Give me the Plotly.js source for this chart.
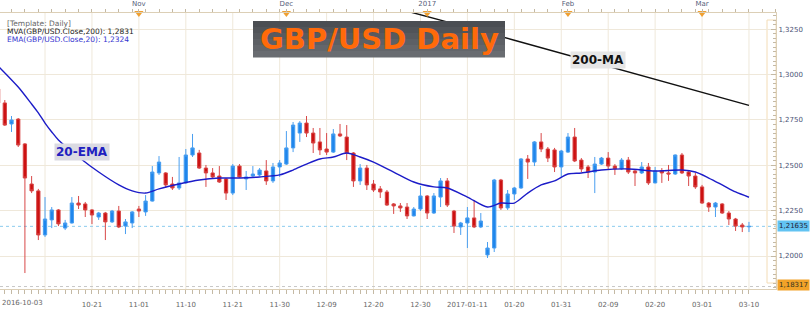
<!DOCTYPE html>
<html>
<head>
<meta charset="utf-8">
<script src="https://cdn.plot.ly/plotly-3.0.1.min.js"></script>
<style>html,body{margin:0;padding:0;background:#fff;}#chart{width:810px;height:310px;}</style>
</head>
<body>
<div id="chart"></div>
<script>
// ---- data ----
const dates = [
'2016-10-03','2016-10-04','2016-10-05','2016-10-06','2016-10-07','2016-10-10','2016-10-11','2016-10-12','2016-10-13','2016-10-14',
'2016-10-17','2016-10-18','2016-10-19','2016-10-20','2016-10-21','2016-10-24','2016-10-25','2016-10-26','2016-10-27','2016-10-28',
'2016-10-31','2016-11-01','2016-11-02','2016-11-03','2016-11-04','2016-11-07','2016-11-08','2016-11-09','2016-11-10','2016-11-11',
'2016-11-14','2016-11-15','2016-11-16','2016-11-17','2016-11-18','2016-11-21','2016-11-22','2016-11-23','2016-11-24','2016-11-25',
'2016-11-28','2016-11-29','2016-11-30','2016-12-01','2016-12-02','2016-12-05','2016-12-06','2016-12-07','2016-12-08','2016-12-09',
'2016-12-12','2016-12-13','2016-12-14','2016-12-15','2016-12-16','2016-12-19','2016-12-20','2016-12-21','2016-12-22','2016-12-23',
'2016-12-27','2016-12-28','2016-12-29','2016-12-30','2017-01-03','2017-01-04','2017-01-05','2017-01-06','2017-01-09','2017-01-10',
'2017-01-11','2017-01-12','2017-01-13','2017-01-16','2017-01-17','2017-01-18','2017-01-19','2017-01-20','2017-01-23','2017-01-24',
'2017-01-25','2017-01-26','2017-01-27','2017-01-30','2017-01-31','2017-02-01','2017-02-02','2017-02-03','2017-02-06','2017-02-07',
'2017-02-08','2017-02-09','2017-02-10','2017-02-13','2017-02-14','2017-02-15','2017-02-16','2017-02-17','2017-02-20','2017-02-21',
'2017-02-22','2017-02-23','2017-02-24','2017-02-27','2017-02-28','2017-03-01','2017-03-02','2017-03-03','2017-03-06','2017-03-07',
'2017-03-08','2017-03-09','2017-03-10'];

const openP = [
1.2921,1.2844,1.2728,1.2755,1.2618,1.2397,1.2359,1.2116,1.2199,1.2254,
1.2154,1.2182,1.2292,1.2287,1.2254,1.2215,1.2237,1.2188,1.2248,1.2165,
1.2182,1.2259,1.2243,1.2303,1.2458,1.2458,1.2397,1.2375,1.2403,1.2557,
1.2568,1.2485,1.2458,1.2441,1.2425,1.2347,1.2496,1.2425,1.2441,1.2447,
1.2469,1.2414,1.2491,1.2507,1.2596,1.2678,1.2733,1.2678,1.2629,1.2590,
1.2573,1.2673,1.2656,1.2568,1.2414,1.2485,1.2397,1.2370,1.2353,1.2287,
1.2276,1.2270,1.2221,1.2259,1.2331,1.2237,1.2325,1.2414,1.2248,1.2160,
1.2182,1.2210,1.2160,1.2006,1.2044,1.2419,1.2265,1.2342,1.2375,1.2535,
1.2518,1.2629,1.2590,1.2585,1.2491,1.2573,1.2656,1.2529,1.2491,1.2463,
1.2507,1.2540,1.2496,1.2480,1.2529,1.2469,1.2458,1.2491,1.2403,1.2469,
1.2458,1.2452,1.2557,1.2463,1.2441,1.2381,1.2292,1.2270,1.2287,1.2237,
1.2204,1.2171,1.2161];

const highP = [
1.2937,1.2860,1.2772,1.2761,1.2623,1.2441,1.2370,1.2325,1.2270,1.2259,
1.2199,1.2325,1.2331,1.2298,1.2259,1.2243,1.2243,1.2254,1.2276,1.2204,
1.2248,1.2276,1.2336,1.2496,1.2551,1.2463,1.2436,1.2546,1.2590,1.2673,
1.2585,1.2502,1.2485,1.2496,1.2430,1.2507,1.2507,1.2469,1.2496,1.2485,
1.2529,1.2513,1.2529,1.2689,1.2739,1.2744,1.2772,1.2706,1.2706,1.2678,
1.2700,1.2728,1.2722,1.2573,1.2507,1.2502,1.2419,1.2386,1.2364,1.2292,
1.2292,1.2292,1.2270,1.2386,1.2336,1.2347,1.2430,1.2430,1.2254,1.2188,
1.2270,1.2309,1.2237,1.2077,1.2425,1.2425,1.2364,1.2381,1.2540,1.2557,
1.2634,1.2678,1.2601,1.2596,1.2585,1.2678,1.2706,1.2540,1.2502,1.2546,
1.2546,1.2573,1.2507,1.2540,1.2546,1.2474,1.2518,1.2513,1.2491,1.2485,
1.2502,1.2560,1.2568,1.2474,1.2458,1.2392,1.2298,1.2298,1.2292,1.2248,
1.2210,1.2182,1.2188];

const lowP = [
1.2838,1.2717,1.2684,1.2601,1.1906,1.2347,1.2088,1.2105,1.2154,1.2165,
1.2143,1.2179,1.2259,1.2215,1.2176,1.2199,1.2088,1.2182,1.2154,1.2121,
1.2154,1.2215,1.2221,1.2300,1.2447,1.2375,1.2364,1.2364,1.2397,1.2546,
1.2480,1.2381,1.2425,1.2403,1.2309,1.2336,1.2430,1.2364,1.2436,1.2441,
1.2392,1.2403,1.2436,1.2502,1.2573,1.2629,1.2656,1.2568,1.2557,1.2557,
1.2568,1.2656,1.2529,1.2381,1.2392,1.2364,1.2353,1.2320,1.2276,1.2232,
1.2243,1.2204,1.2218,1.2248,1.2204,1.2232,1.2270,1.2270,1.2127,1.2116,
1.2044,1.2154,1.2154,1.1989,1.2022,1.2254,1.2254,1.2309,1.2370,1.2425,
1.2496,1.2573,1.2518,1.2463,1.2436,1.2568,1.2518,1.2463,1.2430,1.2347,
1.2502,1.2474,1.2447,1.2474,1.2452,1.2386,1.2452,1.2392,1.2400,1.2403,
1.2414,1.2447,1.2452,1.2386,1.2370,1.2287,1.2243,1.2215,1.2232,1.2171,
1.2138,1.2132,1.2132];

const closeP = [
1.2844,1.2722,1.2750,1.2612,1.2430,1.2359,1.2116,1.2204,1.2254,1.2177,
1.2182,1.2292,1.2281,1.2254,1.2226,1.2237,1.2188,1.2248,1.2160,1.2188,
1.2243,1.2248,1.2303,1.2463,1.2518,1.2392,1.2375,1.2403,1.2557,1.2596,
1.2485,1.2458,1.2436,1.2408,1.2347,1.2496,1.2436,1.2436,1.2452,1.2474,
1.2414,1.2491,1.2513,1.2596,1.2722,1.2733,1.2678,1.2623,1.2585,1.2573,
1.2673,1.2662,1.2568,1.2414,1.2485,1.2392,1.2364,1.2353,1.2281,1.2276,
1.2265,1.2221,1.2259,1.2331,1.2237,1.2331,1.2414,1.2281,1.2165,1.2182,
1.2210,1.2160,1.2193,1.2044,1.2419,1.2265,1.2342,1.2375,1.2535,1.2518,
1.2629,1.2590,1.2540,1.2491,1.2579,1.2656,1.2524,1.2480,1.2463,1.2507,
1.2540,1.2496,1.2480,1.2529,1.2463,1.2458,1.2491,1.2403,1.2469,1.2458,
1.2452,1.2557,1.2458,1.2441,1.2381,1.2292,1.2270,1.2292,1.2237,1.2204,
1.2165,1.2160,1.21635];

// 20-period EMA as drawn on the chart
const emaDates = ['2016-10-03','2016-10-06','2016-10-10','2016-10-11','2016-10-12','2016-10-13','2016-10-14','2016-10-19','2016-10-24','2016-10-27',
'2016-10-31','2016-11-02','2016-11-04','2016-11-09','2016-11-14','2016-11-17','2016-11-22','2016-11-25','2016-11-30','2016-12-02',
'2016-12-06','2016-12-08','2016-12-12','2016-12-14','2016-12-16','2016-12-20','2016-12-23','2016-12-29','2017-01-04','2017-01-06',
'2017-01-11','2017-01-16','2017-01-18','2017-01-20','2017-01-24','2017-01-26','2017-01-30','2017-02-01','2017-02-03','2017-02-08',
'2017-02-14','2017-02-20','2017-02-24','2017-02-28','2017-03-02','2017-03-06','2017-03-08','2017-03-10'];
const emaValues = [1.3048,1.2932,1.2838,1.2789,1.2733,1.2684,1.2640,1.2546,1.2463,1.2392,
1.2359,1.2347,1.2370,1.2397,1.2419,1.2430,1.2430,1.2436,1.2447,1.2474,
1.2507,1.2535,1.2546,1.2568,1.2546,1.2518,1.2463,1.2408,1.2381,1.2375,
1.2325,1.2270,1.2292,1.2292,1.2347,1.2392,1.2414,1.2452,1.2458,1.2474,
1.2480,1.2469,1.2474,1.2463,1.2430,1.2392,1.2353,1.2324];

// 200-period moving average as drawn on the chart
const maDates = ['2016-12-27','2016-12-30','2017-01-11','2017-01-20','2017-01-31','2017-02-09','2017-02-20','2017-03-01','2017-03-10'];
const maValues = [1.3360,1.3331,1.3261,1.3190,1.3119,1.3048,1.2976,1.2904,1.2831];

// axis labels
const xTickDates = ['2016-10-21','2016-11-01','2016-11-10','2016-11-21','2016-11-30','2016-12-09','2016-12-20','2016-12-30','2017-01-11','2017-01-20','2017-01-31','2017-02-09','2017-02-20','2017-03-01','2017-03-10'];
const xTickText  = ['10-21','11-01','11-10','11-21','11-30','12-09','12-20','12-30','2017-01-11','01-20','01-31','02-09','02-20','03-01','03-10'];
const firstDateLabel = '2016-10-03';
const gridDates = ['2016-10-03','2016-10-12'].concat(xTickDates);
const monthDates = ['2016-11-01','2016-12-01','2017-01-03','2017-02-01','2017-03-01'];
const monthText  = ['Nov','Dec','2017','Feb','Mar'];
const lastPrice = 1.21635;
const lowPrice  = 1.18317;

// ---- build ----
const xRange = [0.283, 116.03];
const bottomText = dates.map(d => { const k = xTickDates.indexOf(d); return k >= 0 ? xTickText[k] : ''; });
const monthIdx = monthDates.map(d => dates.indexOf(d));
const topVals = [], topText = [];
for (let i = 0; i <= 116; i += 2) { if (monthIdx.indexOf(i) < 0) { topVals.push(i); topText.push(''); } }
monthIdx.forEach((v, k) => { topVals.push(v); topText.push(monthText[k]); });
const fmt = v => v.toFixed(5).replace('.', ',');

const traces = [
  {type:'candlestick', x:dates, open:openP, high:highP, low:lowP, close:closeP,
   increasing:{line:{color:'#4a9ff0', width:1}, fillcolor:'#1f86ec'},
   decreasing:{line:{color:'#d84848', width:1}, fillcolor:'#cc1111'},
   whiskerwidth:0, hoverinfo:'skip'},
  {type:'scatter', mode:'lines', x:emaDates, y:emaValues, line:{color:'#1c1cc8', width:1.4, shape:'spline', smoothing:0.8}, hoverinfo:'skip'},
  {type:'scatter', mode:'lines', x:maDates, y:maValues, line:{color:'#111111', width:1.4}, hoverinfo:'skip'},
  {type:'scatter', mode:'markers', x:monthIdx, y:monthIdx.map(() => 1), xaxis:'x3', yaxis:'y2', cliponaxis:false,
   marker:{symbol:'triangle-down', size:8, color:'#f0a030'}, hoverinfo:'skip'}
];

const axisLine = '#dccfb6';
const gridCol = '#efe8da';
const tickCol = '#c4b9a4';

const shapes = [];
gridDates.forEach(d => shapes.push({type:'line', xref:'x', yref:'paper', x0:d, x1:d, y0:0, y1:1, layer:'below', line:{color:gridCol, width:1}}));
shapes.push({type:'line', xref:'paper', yref:'y', x0:0, x1:1, y0:lastPrice, y1:lastPrice, layer:'below', line:{color:'#8ccbee', width:1, dash:'dot'}});
shapes.push({type:'line', xref:'paper', yref:'y', x0:0, x1:1, y0:lowPrice, y1:lowPrice, layer:'below', line:{color:'#c8c8c8', width:1, dash:'dot'}});
shapes.push({type:'rect', xref:'paper', yref:'paper', x0:767/776, x1:1, y0:(289-283)/276, y1:(289-20)/276, layer:'below', line:{color:'#f3dcb6', width:1}});
// title box (gradient bands)
const tb = {x0:253, x1:505, y0:21, y1:57};
const bandCols = ['#4b4e53','#515459','#575a5f','#5d6065','#63666b','#696c71'];
bandCols.forEach((c, k) => {
  const h = (tb.y1 - tb.y0) / bandCols.length;
  const t = tb.y0 + k*h, b = t + h + 0.5;
  shapes.push({type:'rect', xref:'paper', yref:'paper', x0:tb.x0/776, x1:tb.x1/776, y0:(289-b)/276, y1:(289-t)/276, line:{width:0}, fillcolor:c, layer:'above'});
});

const F = 'DejaVu Sans, Verdana, sans-serif';
const annotations = [
  {xref:'paper', yref:'paper', x:5/776, y:(289-24)/276, xanchor:'left', yanchor:'middle', showarrow:false, text:'[Template: Daily]', font:{family:F, size:7.5, color:'#666'}},
  {xref:'paper', yref:'paper', x:5/776, y:(289-32)/276, xanchor:'left', yanchor:'middle', showarrow:false, text:'MVA(GBP/USD.Close,200): ' + maValues[maValues.length-1].toFixed(4).replace('.', ','), font:{family:F, size:7.5, color:'#222'}},
  {xref:'paper', yref:'paper', x:5/776, y:(289-39.5)/276, xanchor:'left', yanchor:'middle', showarrow:false, text:'EMA(GBP/USD.Close,20): ' + emaValues[emaValues.length-1].toFixed(4).replace('.', ','), font:{family:F, size:7.5, color:'#3535d0'}},
  {xref:'paper', yref:'paper', x:379/776, y:(289-39)/276, xanchor:'center', yanchor:'middle', showarrow:false, text:'<b>GBP/USD Daily</b>', font:{family:F, size:29, color:'#ff6a0a'}},
  {xref:'paper', yref:'paper', x:82/776, y:(289-152)/276, xanchor:'center', yanchor:'middle', showarrow:false, text:'<b>20-EMA</b>', bgcolor:'#dadae2', borderpad:1, font:{family:F, size:12, color:'#2020c0'}},
  {xref:'paper', yref:'paper', x:598/776, y:(289-60)/276, xanchor:'center', yanchor:'middle', showarrow:false, text:'<b>200-MA</b>', bgcolor:'#e6e6e6', borderpad:1, font:{family:F, size:12, color:'#111'}},
  {xref:'paper', yref:'y', x:1, y:lastPrice, xanchor:'left', yanchor:'middle', xshift:1, showarrow:false, text:fmt(lastPrice), bgcolor:'#62c3f2', borderpad:1, font:{family:F, size:7, color:'#223'}},
  {xref:'paper', yref:'y', x:1, y:lowPrice, xanchor:'left', yanchor:'middle', xshift:1, yshift:2, showarrow:false, text:fmt(lowPrice), bgcolor:'#f2a228', borderpad:1, font:{family:F, size:7, color:'#332'}},
  {xref:'paper', yref:'paper', x:0, y:(289-303)/276, xanchor:'left', yanchor:'middle', showarrow:false, text:firstDateLabel, font:{family:F, size:7, color:'#666'}}
];

const layout = {
  width:810, height:310,
  margin:{l:0, r:34, t:13, b:21, pad:0},
  paper_bgcolor:'#ffffff', plot_bgcolor:'#ffffff',
  separators:',.',
  showlegend:false,
  font:{family:F, size:7, color:'#555'},
  xaxis:{type:'category', range:xRange, tickmode:'array', tickvals:dates, ticktext:bottomText, tickangle:0,
         ticks:'outside', ticklen:4, tickcolor:tickCol, showgrid:false, showline:true, linecolor:axisLine, zeroline:false,
         rangeslider:{visible:false}, fixedrange:true, tickfont:{family:F, size:7, color:'#666'}, ticklabelstandoff:5, automargin:false},
  xaxis3:{overlaying:'x', side:'top', type:'linear', range:xRange, tickmode:'array', tickvals:topVals, ticktext:topText, tickangle:0,
          ticks:'outside', ticklen:3, tickcolor:tickCol, showgrid:false, showline:true, linecolor:axisLine, zeroline:false,
          tickfont:{family:F, size:7, color:'#56607a'}, automargin:false, fixedrange:true},
  yaxis:{side:'right', range:[1.1818, 1.3340], tick0:1.2, dtick:0.025, tickformat:'.4f', showgrid:true, gridcolor:gridCol,
         showline:true, linecolor:axisLine, ticks:'inside', ticklen:5, tickcolor:tickCol, zeroline:false,
         minor:{dtick:0.0025, tick0:1.2, ticks:'inside', ticklen:3, tickcolor:tickCol, showgrid:false},
         tickfont:{family:F, size:7, color:'#4a5275'}, automargin:false, fixedrange:true},
  yaxis2:{overlaying:'y', range:[0, 1], visible:false, fixedrange:true},
  shapes:shapes,
  annotations:annotations
};

Plotly.newPlot('chart', traces, layout, {staticPlot:true, displayModeBar:false});
</script>
</body>
</html>
